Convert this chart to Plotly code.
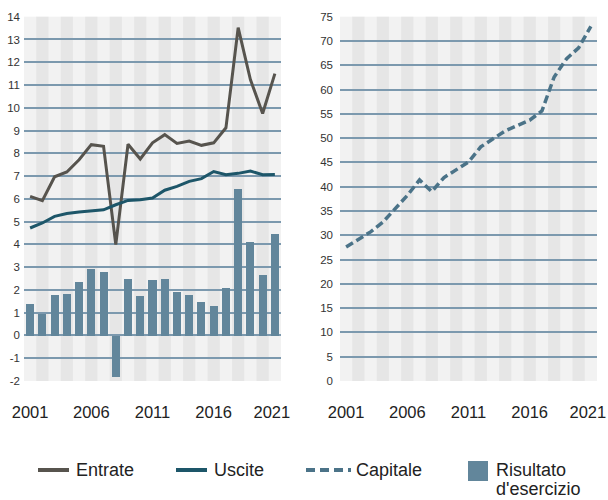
import plotly.graph_objects as go

years = list(range(2001, 2022))
entrate = [6.11, 5.92, 6.97, 7.18, 7.72, 8.38, 8.31, 3.99, 8.40, 7.75, 8.46, 8.82, 8.43, 8.54, 8.35, 8.46, 9.12, 13.52, 11.24, 9.75, 11.50]
uscite = [4.72, 4.94, 5.23, 5.36, 5.42, 5.48, 5.52, 5.74, 5.93, 5.96, 6.04, 6.38, 6.55, 6.77, 6.89, 7.20, 7.06, 7.12, 7.22, 7.06, 7.07]
risultato = [1.39, 0.95, 1.79, 1.83, 2.36, 2.93, 2.80, -1.80, 2.49, 1.74, 2.45, 2.49, 1.92, 1.79, 1.48, 1.30, 2.10, 6.45, 4.12, 2.67, 4.47]
capitale = [27.6, 29.1, 30.7, 32.7, 35.4, 38.2, 41.4, 39.0, 41.9, 43.5, 45.1, 48.2, 49.8, 51.5, 52.6, 53.7, 55.6, 62.6, 66.3, 68.6, 73.0]
x_tick_labels = ["2001", "2006", "2011", "2016", "2021"]
x_tick_pos = [2001, 2006, 2011, 2016, 2020.75]  # last label sits slightly inside the edge, as in the reference
left_ticks = list(range(-2, 15))
left_labels = [str(v) for v in left_ticks]  # plain hyphen for negatives
right_ticks = list(range(0, 80, 5))

C_ENT = "#57544e"
C_USC = "#1d5669"
C_CAP = "#4b7388"
C_BAR = "#62869b"
GRID = "#7c99ae"
FONT = "Liberation Sans"

fig = go.Figure()
fig.add_trace(go.Bar(x=years, y=risultato, marker=dict(color=C_BAR, line=dict(width=0)),
                     width=0.66, xaxis="x", yaxis="y", name="Risultato d'esercizio", showlegend=False))
fig.add_trace(go.Scatter(x=years, y=entrate, mode="lines", line=dict(color=C_ENT, width=3),
                         xaxis="x", yaxis="y", name="Entrate", showlegend=False))
fig.add_trace(go.Scatter(x=years, y=uscite, mode="lines", line=dict(color=C_USC, width=3),
                         xaxis="x", yaxis="y", name="Uscite", showlegend=False))
fig.add_trace(go.Scatter(x=years, y=capitale, mode="lines", line=dict(color=C_CAP, width=3.5, dash="8px,4px"),
                         xaxis="x2", yaxis="y2", name="Capitale", showlegend=False))

shapes = []
for xr, yr in (("x", "y"), ("x2", "y2")):
    for yv in years:
        if (yv - 2001) % 2 == 1:
            shapes.append(dict(type="rect", xref=xr, yref=yr + " domain", x0=yv - 0.5, x1=yv + 0.5,
                               y0=0, y1=1, fillcolor="#e6e6e6", line=dict(width=0), layer="below"))

# manual legend
def px(x):
    return x / 608.0

def py(y):
    return 1 - y / 500.0

ly = 470
shapes.append(dict(type="line", xref="paper", yref="paper", x0=px(38), x1=px(69), y0=py(ly), y1=py(ly),
                   line=dict(color=C_ENT, width=4)))
shapes.append(dict(type="line", xref="paper", yref="paper", x0=px(176), x1=px(207), y0=py(ly), y1=py(ly),
                   line=dict(color=C_USC, width=4)))
shapes.append(dict(type="line", xref="paper", yref="paper", x0=px(306), x1=px(351), y0=py(ly), y1=py(ly),
                   line=dict(color=C_CAP, width=4, dash="9px,5px")))
shapes.append(dict(type="rect", xref="paper", yref="paper", x0=px(468), x1=px(488), y0=py(481), y1=py(461),
                   fillcolor=C_BAR, line=dict(width=0)))

annotations = []
LEG_FONT = dict(size=18, color="#222", family=FONT)
for txt, x0, yy in (("Entrate", 74, ly), ("Uscite", 212, ly), ("Capitale", 354, ly),
                    ("Risultato", 494, ly), ("d'esercizio", 494, ly + 19)):
    annotations.append(dict(text=txt, x=px(x0), y=py(yy), xref="paper", yref="paper", xanchor="left",
                            yanchor="middle", showarrow=False, font=LEG_FONT))

common_x = dict(range=[2000.5, 2021.5], tickvals=x_tick_pos, ticktext=x_tick_labels,
                showgrid=False, zeroline=False, ticks="outside", ticklen=16, tickcolor="rgba(0,0,0,0)",
                tickfont=dict(size=16.5, color="#222", family=FONT), showline=False, fixedrange=True,
                automargin=False, ticklabeloverflow="allow")
common_y = dict(showgrid=True, gridcolor=GRID, gridwidth=1.5, zeroline=False, showline=False, ticks="",
                tickfont=dict(size=11.5, color="#333", family=FONT), fixedrange=True, automargin=False)

fig.update_layout(
    width=608, height=500,
    margin=dict(l=0, r=0, t=0, b=0, autoexpand=False),
    paper_bgcolor="white", plot_bgcolor="#f2f2f2",
    bargap=0,
    showlegend=False,
    xaxis=dict(domain=[24 / 608, 281 / 608], anchor="y", **common_x),
    yaxis=dict(domain=[1 - 381 / 500, 1 - 16.7 / 500], anchor="x", range=[-2, 14], tickvals=left_ticks,
               ticktext=left_labels, ticklabelstandoff=3, **common_y),
    xaxis2=dict(domain=[340 / 608, 597 / 608], anchor="y2", **common_x),
    yaxis2=dict(domain=[1 - 381 / 500, 1 - 16.7 / 500], anchor="x2", range=[0, 75], tickvals=right_ticks,
                ticklabelstandoff=6, **common_y),
    shapes=shapes,
    annotations=annotations,
)

fig.write_html("out.html", config={"displayModeBar": False},
               post_script="document.body.style.margin='0';document.body.style.padding='0';")
